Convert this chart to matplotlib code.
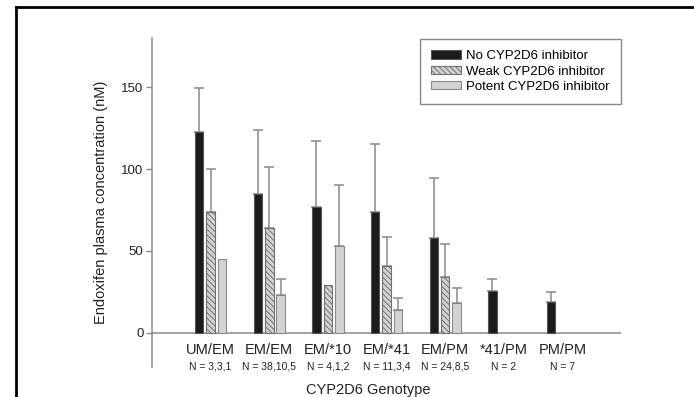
import numpy as np
import matplotlib
matplotlib.use("Agg")
import matplotlib.pyplot as plt
from matplotlib.lines import Line2D

plt.rcParams['font.family'] = ['Liberation Sans', 'DejaVu Sans']
plt.rcParams['hatch.linewidth'] = 0.7

# --- data ---
genotypes = ['UM/EM', 'EM/EM', 'EM/*10', 'EM/*41', 'EM/PM', '*41/PM', 'PM/PM']
n_labels = ['N = 3,3,1', 'N = 38,10,5', 'N = 4,1,2', 'N = 11,3,4',
            'N = 24,8,5', 'N = 2', 'N = 7']

no_inh = [122.5, 85, 76.5, 73.5, 58, 25.5, 19]
no_inh_err = [27, 39, 40.5, 42, 36.5, 7.5, 6]

weak_inh = [74, 64, 29, 40.5, 34]
weak_inh_err = [26, 37, 0, 18, 20]

potent_inh = [45, 23, 53, 14, 18]
potent_inh_err = [0, 10, 37, 7, 9]

series_names = ['No CYP2D6 inhibitor', 'Weak CYP2D6 inhibitor', 'Potent CYP2D6 inhibitor']

# --- figure ---
fig = plt.figure(figsize=(6.94, 3.97), dpi=100)
ax = fig.add_axes([0.219, 0.0756, 0.676, 0.8284])

x = np.arange(1, len(genotypes) + 1)
w = 0.145
off = 0.195
err_col = '#8a8a8a'

series = [
    (no_inh, no_inh_err, -off, dict(color='#1b1b1b', edgecolor='#555555')),
    (weak_inh, weak_inh_err, 0.0, dict(color='#d4d4d4', edgecolor='#707070', hatch='\\\\\\\\\\\\')),
    (potent_inh, potent_inh_err, off, dict(color='#d3d3d3', edgecolor='#8a8a8a')),
]

handles = []
for (vals, errs, dx, style), name in zip(series, series_names):
    xs = x[:len(vals)] + dx
    b = ax.bar(xs, vals, width=w, linewidth=0.8, label=name, zorder=3, **style)
    handles.append(b)
    for xi, v, e in zip(xs, vals, errs):
        if e > 0:
            ax.errorbar(xi, v, yerr=[[0], [e]], fmt='none', ecolor=err_col,
                        elinewidth=1.1, capsize=3.8, capthick=1.1, zorder=2)

ax.set_xlim(0, 8)
ax.set_ylim(-21, 180)
ax.axhline(0, color=err_col, lw=1.1, zorder=1)

for s in ['top', 'right', 'bottom']:
    ax.spines[s].set_visible(False)
ax.spines['left'].set_color(err_col)
ax.spines['left'].set_linewidth(1.1)

ax.set_xticks([])
ax.set_yticks([0, 50, 100, 150])
ax.tick_params(axis='y', direction='out', length=4.5, width=1, color=err_col,
               labelsize=9.5, labelcolor='#222222', pad=1.5)

for xi, g, n in zip(x, genotypes, n_labels):
    ax.text(xi, -10.5, g, ha='center', va='center', fontsize=10.5, color='#222222')
    ax.text(xi, -20.8, n, ha='center', va='center', fontsize=7.5, color='#222222')

fig.text(0.146, 0.49, 'Endoxifen plasma concentration (nM)', rotation=90,
         ha='center', va='center', fontsize=10.5, color='#222222')
fig.text(0.53, 0.0176, 'CYP2D6 Genotype', ha='center', va='center',
         fontsize=10.5, color='#222222')

leg = ax.legend(handles=handles, loc='upper right',
                bbox_to_anchor=(621 / 694, 1 - 39 / 397), bbox_transform=fig.transFigure,
                borderaxespad=0, fancybox=False, framealpha=1, edgecolor='#888888',
                fontsize=9.5, handlelength=2.25, handleheight=0.6, handletextpad=0.4,
                labelspacing=0.25, borderpad=0.85)
leg.get_frame().set_linewidth(1.0)

# black frame around the figure (cut at right/bottom)
fig.add_artist(Line2D([16 / 694, 1], [1 - 7 / 397, 1 - 7 / 397], color='black', lw=2,
                      transform=fig.transFigure))
fig.add_artist(Line2D([16 / 694, 16 / 694], [0, 1 - 7 / 397], color='black', lw=2,
                      transform=fig.transFigure))

fig.savefig('out.png', dpi=100)
